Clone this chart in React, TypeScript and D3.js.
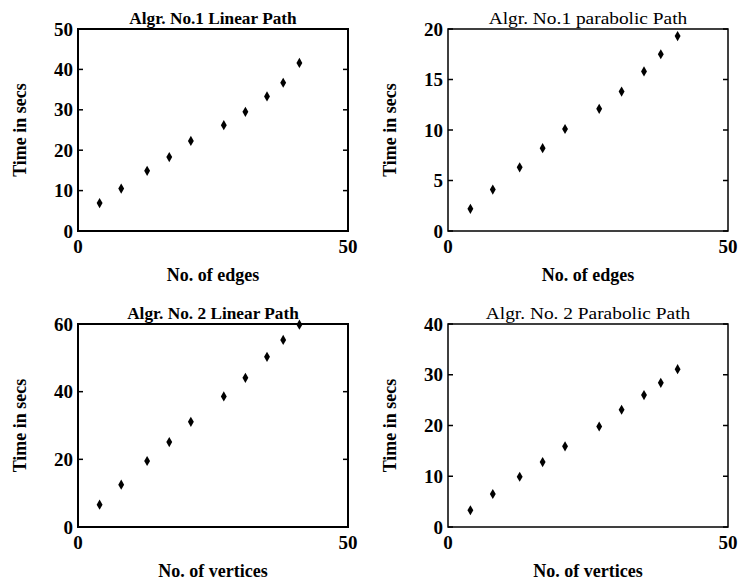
import React from "react";
import * as d3 from "d3";

// values
const xValues = [4, 8, 12.8, 16.9, 20.9, 27, 31, 35, 38, 41];
const alg1Linear = [6.9, 10.5, 14.9, 18.3, 22.3, 26.2, 29.5, 33.3, 36.7, 41.6];
const alg1Parabolic = [2.2, 4.1, 6.3, 8.2, 10.1, 12.1, 13.8, 15.8, 17.5, 19.3];
const alg2Linear = [6.6, 12.5, 19.5, 25.1, 31.1, 38.6, 44.1, 50.3, 55.3, 59.8];
const alg2Parabolic = [3.3, 6.5, 9.9, 12.8, 15.9, 19.8, 23.1, 26.0, 28.4, 31.1];

const titles = [
  "Algr. No.1 Linear Path",
  "Algr. No.1 parabolic Path",
  "Algr. No. 2 Linear Path",
  "Algr. No. 2 Parabolic Path",
];
const xLabels = ["No. of edges", "No. of edges", "No. of vertices", "No. of vertices"];
const yMax = [50, 20, 60, 40];
const yTicks = [
  [0, 10, 20, 30, 40, 50],
  [0, 5, 10, 15, 20],
  [0, 20, 40, 60],
  [0, 10, 20, 30, 40],
];
const xTicks = [0, 50];

const FONT = "'Liberation Serif', 'DejaVu Serif', serif";

// frame boxes for each panel
const panels = [
  { left: 78, right: 348, top: 29, bottom: 231, series: alg1Linear, bold: true },
  { left: 448, right: 728, top: 29, bottom: 231, series: alg1Parabolic, bold: false },
  { left: 78, right: 348, top: 324, bottom: 527, series: alg2Linear, bold: true },
  { left: 448, right: 728, top: 324, bottom: 527, series: alg2Parabolic, bold: false },
];

function Panel({ i }: { i: number }) {
  const p = panels[i];
  const x = d3.scaleLinear().domain([0, 50]).range([p.left, p.right]);
  const y = d3.scaleLinear().domain([0, yMax[i]]).range([p.bottom, p.top]);
  const diamond = d3.symbol().type(d3.symbolDiamond).size(30)();
  const cx = (p.left + p.right) / 2;
  const cy = (p.top + p.bottom) / 2;
  const sw = p.bold ? 2 : 1.5;

  return (
    <g>
      {/* the scan is a bit stretched sideways, so the titles are too */}
      <text
        transform={`translate(${cx},${p.top - 5}) scale(${p.bold ? 1.08 : 1.14},1)`}
        textAnchor="middle"
        fontFamily={FONT}
        fontSize={p.bold ? 16 : 17}
        fontWeight={p.bold ? "bold" : "normal"}
      >
        {titles[i]}
      </text>
      <rect
        x={p.left}
        y={p.top}
        width={p.right - p.left}
        height={p.bottom - p.top}
        fill="none"
        stroke="#000"
        strokeWidth={sw}
      />
      {yTicks[i].map((t) => (
        <g key={t}>
          <line x1={p.left} x2={p.left + 5} y1={y(t)} y2={y(t)} stroke="#000" strokeWidth={1.5} />
          <line x1={p.right} x2={p.right - 5} y1={y(t)} y2={y(t)} stroke="#000" strokeWidth={1.5} />
          <text
            x={p.left - 5}
            y={y(t)}
            dy="0.35em"
            textAnchor="end"
            fontFamily={FONT}
            fontSize={19}
            fontWeight="bold"
          >
            {t}
          </text>
        </g>
      ))}
      {xTicks.map((t) => (
        <text
          key={t}
          x={x(t)}
          y={p.bottom + 22}
          textAnchor="middle"
          fontFamily={FONT}
          fontSize={19}
          fontWeight="bold"
        >
          {t}
        </text>
      ))}
      <text
        x={cx}
        y={p.bottom + 50}
        textAnchor="middle"
        fontFamily={FONT}
        fontSize={18}
        fontWeight="bold"
      >
        {xLabels[i]}
      </text>
      <text
        transform={`translate(${p.left - 52},${cy}) rotate(-90)`}
        textAnchor="middle"
        fontFamily={FONT}
        fontSize={18}
        fontWeight="bold"
      >
        Time in secs
      </text>
      {p.series.map((v, k) => (
        <path key={k} d={diamond!} transform={`translate(${x(xValues[k])},${y(v)})`} fill="#000" />
      ))}
    </g>
  );
}

export default function App() {
  return (
    <svg
      width={741}
      height={587}
      style={{ position: "absolute", left: 0, top: 0, background: "#fff" }}
    >
      <rect width={741} height={587} fill="#fff" />
      {panels.map((_, i) => (
        <Panel key={i} i={i} />
      ))}
    </svg>
  );
}
